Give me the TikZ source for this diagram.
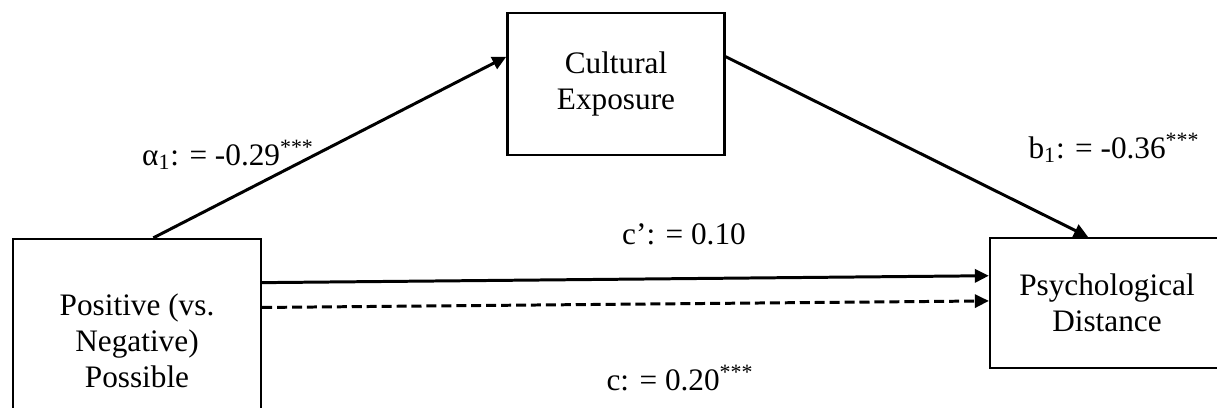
\documentclass[tikz,border=0pt]{standalone}
\usepackage{fontspec}
\setmainfont{Liberation Serif}
\usetikzlibrary{arrows.meta,calc,positioning}
\tikzset{
  varbox/.style={draw,line width=1.3pt,align=center,inner sep=0pt},
  path/.style={line width=1.7pt,-{Triangle[length=8pt,width=7.5pt]}},
  coef/.style={inner sep=0pt}
}

\begin{document}
\begin{tikzpicture}[x=0.02cm,y=-0.02cm,font=\fontsize{17.8}{20.5}\selectfont]
\useasboundingbox (0,0) rectangle (1217,408);
% variables
\node[varbox,minimum width=248*0.02cm,minimum height=204*0.02cm] (pos) at (137,341) {Positive (vs.\\Negative)\\Possible};
\node[varbox,minimum width=217*0.02cm,minimum height=142*0.02cm] (cult) at (616,84) {Cultural\\Exposure};
\node[varbox,minimum width=234*0.02cm,minimum height=130*0.02cm] (psy) at (1107,303) {Psychological\\Distance};
% paths
\draw[path] (pos.81) -- (cult.166);
\draw[path] (cult.14) -- (psy.106);
\draw[path] (pos.25) -- (psy.167.5);
\draw[path,dash pattern=on 5.7pt off 2.8pt] (pos.15.8) -- (psy.179);
% coefficients
\node[coef] (a1) at (228,155) {α\textsubscript{1}: = -0.29\textsuperscript{***}};
\node[coef] (b1) at (1114,148) {b\textsubscript{1}: = -0.36\textsuperscript{***}};
\node[coef] (cp) at (684,234) {c’: = 0.10};
\node[coef] (c) at (680,378) {c: = 0.20\textsuperscript{***}};
\end{tikzpicture}
\end{document}
